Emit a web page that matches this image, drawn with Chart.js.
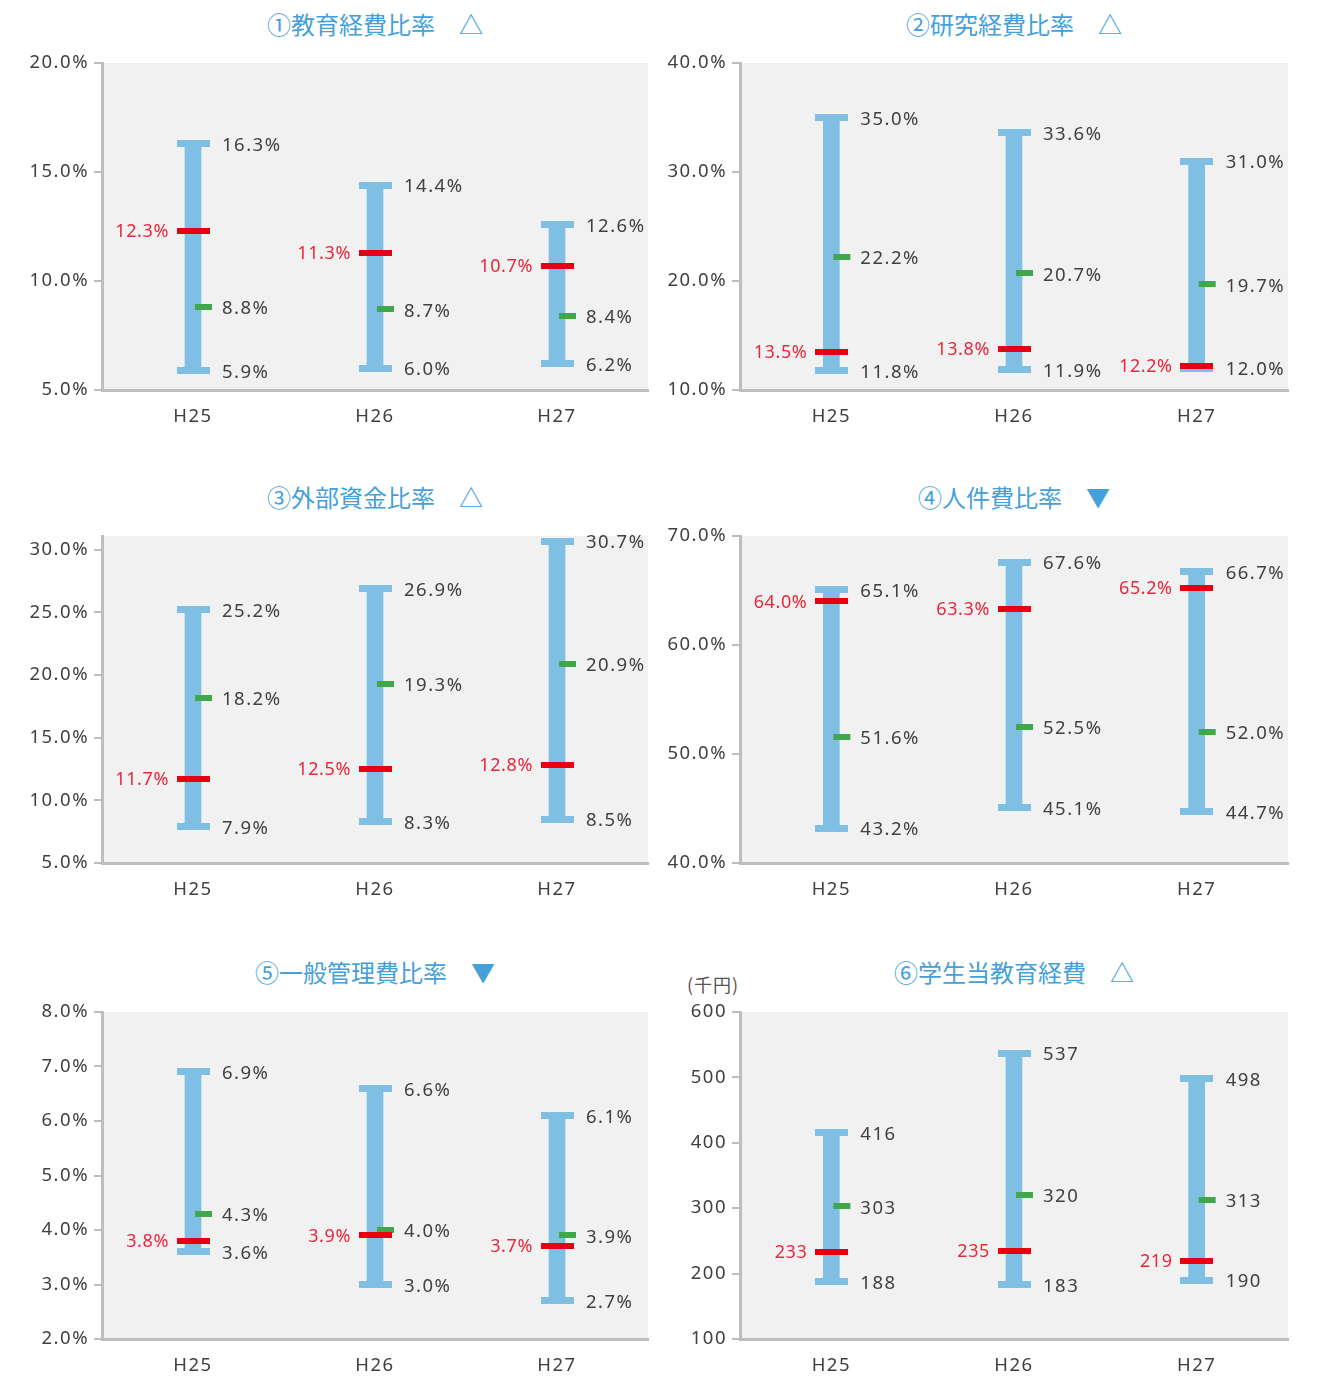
<!DOCTYPE html>
<html lang="ja">
<head>
<meta charset="utf-8">
<script src="https://cdn.jsdelivr.net/npm/chart.js@4.4.1/dist/chart.umd.min.js"></script>
<style>
  body { margin: 0; background: #fff; }
  #page { position: relative; width: 1317px; height: 1376px; font-family: "Noto Sans CJK JP", "Noto Sans", sans-serif; }
  canvas { position: absolute; }
  .ttl { position: absolute; font-size: 24px; line-height: 1; color: #45a0d9; white-space: nowrap; transform: translate(-50%, -50%); }
  .unit { position: absolute; font-size: 18px; line-height: 1; color: #555; letter-spacing: 1px; }
</style>
</head>
<body>
<div id="page"></div>
<script>
// ── DATA ──────────────────────────────────────────────────────────────────
const years = ['H25', 'H26', 'H27'];

const eduMax = [16.3, 14.4, 12.6], eduMed = [8.8, 8.7, 8.4], eduMin = [5.9, 6.0, 6.2], eduOwn = [12.3, 11.3, 10.7];
const resMax = [35.0, 33.6, 31.0], resMed = [22.2, 20.7, 19.7], resMin = [11.8, 11.9, 12.0], resOwn = [13.5, 13.8, 12.2];
const extMax = [25.2, 26.9, 30.7], extMed = [18.2, 19.3, 20.9], extMin = [7.9, 8.3, 8.5], extOwn = [11.7, 12.5, 12.8];
const perMax = [65.1, 67.6, 66.7], perMed = [51.6, 52.5, 52.0], perMin = [43.2, 45.1, 44.7], perOwn = [64.0, 63.3, 65.2];
const admMax = [6.9, 6.6, 6.1], admMed = [4.3, 4.0, 3.9], admMin = [3.6, 3.0, 2.7], admOwn = [3.8, 3.9, 3.7];
const stuMax = [416, 537, 498], stuMed = [303, 320, 313], stuMin = [188, 183, 190], stuOwn = [233, 235, 219];

// y-axis tick values per panel
const eduTicks = [5, 10, 15, 20];
const resTicks = [10, 20, 30, 40];
const extTicks = [5, 10, 15, 20, 25, 30];
const perTicks = [40, 50, 60, 70];
const admTicks = [2, 3, 4, 5, 6, 7, 8];
const stuTicks = [100, 200, 300, 400, 500, 600];

// ── STYLE ─────────────────────────────────────────────────────────────────
const BLUE = '#7fbfe3', RED = '#e60012', GREEN = '#3fa84a';
const TXT = '#404040', RED_TXT = '#e8283c', AXIS = '#bdbdbd', BG = '#f1f1f1';
const FONT = '"Noto Sans", "Noto Sans CJK JP", sans-serif';
const SPACING = '1.5px';

function markImg(w, h, color, x0, mw) {
  const c = document.createElement('canvas');
  c.width = w; c.height = h;
  const g = c.getContext('2d');
  g.fillStyle = color;
  g.fillRect(x0, 0, mw, h);
  return c;
}
const capImg = markImg(33, 7, BLUE, 0, 33);
const ownImg = markImg(33, 6, RED, 0, 33);
const medImg = markImg(40, 6, GREEN, 22, 17);   // median mark sits right of the bar centre

// panel layout: column 0 → axis at 102, column 1 → axis at 740
const panels = [
  { title: '①教育経費比率',   sym: '△', max: eduMax, med: eduMed, min: eduMin, own: eduOwn, ticks: eduTicks, hi: 20,   top: 63,   bot: 390,  col: 0, ty: 24 },
  { title: '②研究経費比率',   sym: '△', max: resMax, med: resMed, min: resMin, own: resOwn, ticks: resTicks, hi: 40,   top: 63,   bot: 390,  col: 1, ty: 24 },
  { title: '③外部資金比率',   sym: '△', max: extMax, med: extMed, min: extMin, own: extOwn, ticks: extTicks, hi: 31.1, top: 536,  bot: 863,  col: 0, ty: 497 },
  { title: '④人件費比率',     sym: '▼', max: perMax, med: perMed, min: perMin, own: perOwn, ticks: perTicks, hi: 70,   top: 536,  bot: 863,  col: 1, ty: 497 },
  { title: '⑤一般管理費比率', sym: '▼', max: admMax, med: admMed, min: admMin, own: admOwn, ticks: admTicks, hi: 8,    top: 1012, bot: 1339, col: 0, ty: 972 },
  { title: '⑥学生当教育経費', sym: '△', max: stuMax, med: stuMed, min: stuMin, own: stuOwn, ticks: stuTicks, hi: 600,  top: 1012, bot: 1339, col: 1, ty: 972, yen: true },
];

// ── PLUGINS ───────────────────────────────────────────────────────────────
const plotBg = {
  id: 'plotBg',
  beforeDraw(chart) {
    const a = chart.chartArea, ctx = chart.ctx;
    ctx.letterSpacing = SPACING;   // wider glyphs like the original typeface
    ctx.save();
    ctx.fillStyle = BG;
    ctx.fillRect(a.left, a.top, a.right - a.left, a.bottom - a.top);
    ctx.restore();
  }
};

const valueLabels = {
  id: 'valueLabels',
  afterDatasetsDraw(chart) {
    const ctx = chart.ctx;
    chart.data.datasets.forEach((ds, di) => {
      if (!ds.side) return;
      chart.getDatasetMeta(di).data.forEach((pt, i) => {
        const v = ds.data[i];
        const txt = ds.yen ? String(v) : v.toFixed(1) + '%';
        ctx.save();
        ctx.textBaseline = 'middle';
        if (ds.side === 'left') {
          ctx.font = '18px ' + FONT;
          ctx.letterSpacing = '0.6px';
          ctx.textAlign = 'right';
          ctx.fillStyle = RED_TXT;
          ctx.fillText(txt, pt.x - 24, pt.y + 1);
        } else {
          ctx.font = '18.5px ' + FONT;
          ctx.textAlign = 'left';
          ctx.fillStyle = TXT;
          ctx.fillText(txt, pt.x + 29, pt.y + 2);
        }
        ctx.restore();
      });
    });
  }
};

// ── BUILD ─────────────────────────────────────────────────────────────────
const page = document.getElementById('page');

panels.forEach(p => {
  const left = p.col ? 640 : 0;
  const axisX = p.col ? 740 : 102;
  const canvasTop = p.top - 20;
  const xAxisH = 45;
  const lo = p.ticks[0];

  const t = document.createElement('div');
  t.className = 'ttl';
  t.textContent = p.title + '\u3000' + p.sym;
  t.style.left = (p.col ? 1014 : 375) + 'px';
  t.style.top = p.ty + 'px';
  page.appendChild(t);

  if (p.yen) {
    const u = document.createElement('div');
    u.className = 'unit';
    u.textContent = '(千円)';
    u.style.left = '687px';
    u.style.top = '975px';
    page.appendChild(u);
  }

  const cv = document.createElement('canvas');
  cv.width = 660;
  cv.height = p.bot - canvasTop + xAxisH;
  cv.style.left = left + 'px';
  cv.style.top = canvasTop + 'px';
  page.appendChild(cv);

  const pt = (data, img, side, order) => ({
    type: 'line', data, showLine: false, pointStyle: img, pointRadius: 3,
    side, yen: !!p.yen, order
  });

  new Chart(cv, {
    type: 'bar',
    data: {
      labels: years,
      datasets: [
        { type: 'bar', data: p.min.map((v, i) => [v, p.max[i]]), backgroundColor: BLUE, barThickness: 16, order: 5 },
        pt(p.max, capImg, 'right', 4),
        pt(p.min, capImg, 'right', 4),
        pt(p.med, medImg, 'right', 3),
        pt(p.own, ownImg, 'left', 1),
      ]
    },
    options: {
      responsive: false,
      animation: false,
      events: [],
      layout: { padding: { top: 20, right: 12, left: 0, bottom: 0 } },
      plugins: { legend: { display: false }, tooltip: { enabled: false }, title: { display: false } },
      scales: {
        x: {
          grid: { display: false, drawTicks: false },
          border: { display: true, color: AXIS, width: 3 },
          ticks: { color: TXT, font: { size: 18.5, family: FONT }, padding: 16 },
          afterFit(s) { s.height = xAxisH; }
        },
        y: {
          min: lo, max: p.hi,
          grid: { drawOnChartArea: false, drawTicks: true, tickLength: 8, color: AXIS, lineWidth: 2 },
          border: { display: true, color: AXIS, width: 3 },
          ticks: {
            color: TXT, font: { size: 18.5, family: FONT }, padding: 5,
            callback: v => p.yen ? String(v) : v.toFixed(1) + '%'
          },
          afterBuildTicks(s) { s.ticks = p.ticks.map(v => ({ value: v })); },
          afterFit(s) { s.width = axisX - left; }
        }
      }
    },
    plugins: [plotBg, valueLabels]
  });
});
</script>
</body>
</html>
